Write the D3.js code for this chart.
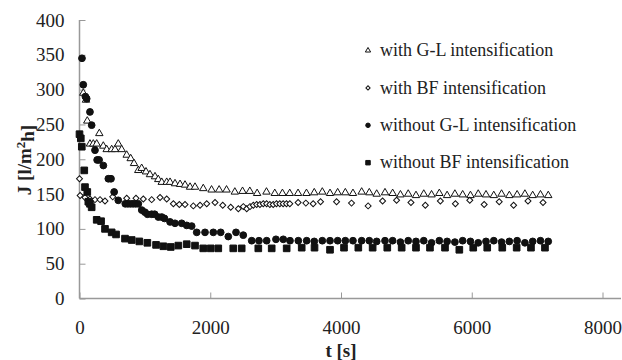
<!DOCTYPE html>
<html>
<head>
<meta charset="utf-8">
<script src="https://cdn.jsdelivr.net/npm/d3@7"></script>
<style>
  body { margin: 0; background: #fff; }
  svg { display: block; font-family: "Liberation Serif", "Times New Roman", "DejaVu Serif", serif; }
</style>
</head>
<body>
<svg id="chart" width="622" height="360"></svg>
<script>
// with G-L intensification (open triangles)
const glT = [58, 99, 119, 160, 211, 263, 303, 364, 416, 492, 543, 593, 645, 722, 783, 834, 899, 951, 1017, 1078, 1155, 1205,
  1258, 1334, 1385, 1461, 1538, 1614, 1691, 1767, 1893, 2020, 2136, 2249, 2376, 2494, 2605, 2717, 2860, 2987, 3104,
  3216, 3343, 3472, 3591, 3714, 3832, 3949, 4066, 4183, 4316, 4433, 4546, 4673, 4790, 4909, 5028, 5147, 5266, 5385,
  5504, 5623, 5742, 5861, 5980, 6099, 6218, 6337, 6456, 6575, 6694, 6813, 6932, 7051, 7170];
const glJ = [295, 285, 255, 222, 222, 222, 237, 219, 214, 214, 214, 222, 214, 206, 201, 194, 184, 187, 182, 178, 175, 171,
  167, 167, 167, 165, 164, 163, 160, 160, 158, 156, 156, 156, 153, 154, 154, 151, 153, 151, 151,
  151, 151, 151, 152, 153, 151, 152, 152, 151, 153, 152, 150, 152, 151, 149, 150, 148, 150, 149,
  151, 148, 150, 149, 148, 150, 149, 148, 150, 148, 149, 150, 148, 149, 148];

// with BF intensification (open diamonds)
const bfT = [0, 10, 84, 160, 237, 314, 390, 508, 722, 864, 976, 1104, 1232, 1334, 1436, 1527, 1614, 1741, 1844, 1946,
  2073, 2191, 2313, 2430, 2506, 2558, 2608, 2659, 2710, 2760, 2811, 2862, 2912, 2963, 3013, 3064, 3115, 3166, 3217,
  3344, 3462, 3574, 3687, 3932, 4161, 4415, 4636, 4850, 5070, 5290, 5520, 5750, 5970, 6190, 6420, 6640, 6860, 7090];
const bfJ = [172, 148, 145, 143, 142, 142, 140, 146, 144, 144, 143, 142, 145, 143, 136, 135, 135, 133, 134, 136,
  138, 134, 131, 129, 132, 129, 132, 134, 135, 135, 136, 136, 135, 135, 136, 136, 136, 136, 136,
  138, 137, 136, 139, 139, 137, 133, 140, 141, 138, 134, 140, 136, 141, 135, 139, 134, 140, 138];

// without G-L intensification (filled circles)
const noGlT = [38, 58, 90, 110, 160, 186, 237, 270, 300, 365, 441, 482, 530, 593, 700, 740, 780, 820, 860, 900, 952, 1000,
  1040, 1104, 1150, 1206, 1258, 1300, 1385, 1461, 1563, 1640, 1716, 1793, 1920, 2047, 2160, 2276, 2394, 2505, 2634,
  2745, 2863, 3005, 3117, 3220, 3347, 3475, 3591, 3714, 3832, 3949, 4066, 4183, 4316, 4433, 4546, 4673, 4790, 4909,
  5028, 5147, 5266, 5385, 5504, 5623, 5742, 5861, 5980, 6099, 6218, 6337, 6456, 6575, 6694, 6813, 6932, 7051, 7170];
const noGlJ = [345, 307, 290, 287, 268, 249, 213, 199, 199, 191, 172, 172, 153, 141, 136, 136, 136, 136, 136, 136, 127, 124,
  121, 121, 121, 117, 117, 115, 110, 108, 108, 105, 104, 95, 95, 95, 95, 89, 95, 91, 83,
  83, 83, 85, 85, 83, 83, 83, 82, 83, 83, 83, 83, 83, 83, 83, 82, 83, 83, 81,
  83, 82, 83, 80, 83, 82, 81, 83, 82, 80, 82, 83, 81, 82, 83, 80, 82, 83, 82];

// without BF intensification (filled squares)
const noBfT = [0, 20, 35, 73, 84, 119, 135, 160, 186, 263, 330, 390, 492, 559, 696, 799, 915, 1038, 1171, 1283, 1396,
  1512, 1640, 1767, 1893, 2007, 2123, 2352, 2481, 2735, 2940, 3169, 3399, 3595, 3832, 4046, 4265, 4484, 4708, 4928,
  5147, 5361, 5591, 5810, 6023, 6237, 6467, 6687, 6906, 7120];
const noBfJ = [236, 230, 218, 184, 160, 153, 139, 136, 131, 113, 111, 100, 95, 92, 86, 84, 82, 80, 77, 75, 74,
  76, 78, 76, 72, 72, 72, 72, 72, 72, 72, 72, 73, 73, 70, 73, 73, 73, 73, 73,
  73, 73, 73, 70, 73, 73, 73, 73, 73, 73];

const xTicks = [0, 2000, 4000, 6000, 8000];
const yTicks = [0, 50, 100, 150, 200, 250, 300, 350, 400];

const series = [
  {name: "with G-L intensification", t: glT, J: glJ, type: d3.symbolTriangle, size: 24, legendSize: 12, fill: "#fff", rot: 0},
  {name: "with BF intensification", t: bfT, J: bfJ, type: d3.symbolSquare, size: 18, legendSize: 9, fill: "#fff", rot: 45},
  {name: "without G-L intensification", t: noGlT, J: noGlJ, type: d3.symbolCircle, size: 36, legendSize: 16, fill: "#111", rot: 0},
  {name: "without BF intensification", t: noBfT, J: noBfJ, type: d3.symbolSquare, size: 44, legendSize: 20, fill: "#111", rot: 0}
];

const serif = "'Liberation Serif', 'Times New Roman', 'DejaVu Serif', serif";
const svg = d3.select("#chart");
const x = d3.scaleLinear().domain([0, 8000]).range([79.5, 602.5]);
const y = d3.scaleLinear().domain([0, 400]).range([298.5, 20]);
const axisColor = "#999";

// AXES
const gy = svg.append("g")
  .attr("transform", "translate(" + x(0) + ",0)")
  .call(d3.axisLeft(y).tickValues(yTicks).tickFormat(d3.format("d"))
    .tickSizeInner(-6).tickSizeOuter(0).tickPadding(15));
gy.select(".domain").remove();

const gx = svg.append("g")
  .attr("transform", "translate(0," + y(0) + ")")
  .call(d3.axisBottom(x).tickValues(xTicks).tickFormat(d3.format("d"))
    .tickSizeInner(-6).tickSizeOuter(0).tickPadding(22));
gx.select(".domain").remove();

svg.selectAll("g").attr("font-family", serif);
svg.selectAll(".tick line").attr("stroke", axisColor);
svg.selectAll(".tick text")
  .attr("fill", "#222")
  .style("font-size", "19px")
  .style("font-family", serif);

svg.append("line")
  .attr("x1", x(0)).attr("x2", x(0))
  .attr("y1", y(400)).attr("y2", y(0))
  .attr("stroke", axisColor).attr("stroke-width", 1.5);
svg.append("line")
  .attr("x1", x(0)).attr("x2", 621)
  .attr("y1", y(0)).attr("y2", y(0))
  .attr("stroke", axisColor).attr("stroke-width", 1.5);

// axis titles
svg.append("text")
  .attr("x", 341).attr("y", 357)
  .attr("text-anchor", "middle")
  .style("font-size", "19px").style("font-weight", "bold")
  .attr("fill", "#222")
  .text("t [s]");

const yl = svg.append("text")
  .attr("transform", "translate(31,160) rotate(-90)")
  .attr("text-anchor", "middle")
  .style("font-size", "19px").style("font-weight", "bold")
  .attr("fill", "#222");
yl.append("tspan").text("J [l/m");
yl.append("tspan").attr("dy", "-0.45em").style("font-size", "13px").text("2");
yl.append("tspan").attr("dy", "0.45em").text("h]");

// POINTS
series.forEach(s => {
  const sym = d3.symbol().type(s.type).size(s.size);
  svg.append("g")
    .selectAll("path")
    .data(s.t.map((t, i) => ({t: t, J: s.J[i]})))
    .enter().append("path")
    .attr("d", sym)
    .attr("transform", d => "translate(" + x(d.t) + "," + y(d.J) + ") rotate(" + s.rot + ")")
    .attr("fill", s.fill)
    .attr("stroke", "#111")
    .attr("stroke-width", 1);
});

// LEGEND
const legend = svg.append("g").attr("transform", "translate(368,50.5)");
series.forEach((s, i) => {
  const row = legend.append("g").attr("transform", "translate(0," + (i * 37.4) + ")");
  row.append("path")
    .attr("d", d3.symbol().type(s.type).size(s.legendSize))
    .attr("transform", "rotate(" + s.rot + ")")
    .attr("fill", s.fill)
    .attr("stroke", "#111")
    .attr("stroke-width", 1);
  row.append("text")
    .attr("x", 12).attr("dy", "0.32em")
    .style("font-size", "18px")
    .style("font-family", serif)
    .attr("fill", "#222")
    .text(s.name);
});
</script>
</body>
</html>
